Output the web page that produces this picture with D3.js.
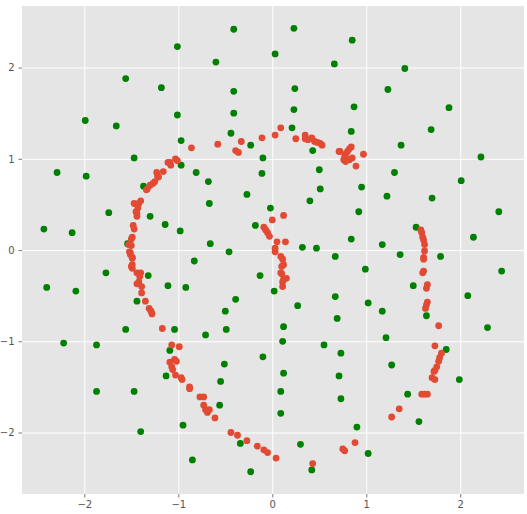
<!DOCTYPE html>
<html>
<head>
<meta charset="utf-8">
<script src="https://cdn.jsdelivr.net/npm/d3@7"></script>
<style>
body { margin: 0; background: #fff; }
</style>
</head>
<body>
<div id="chart"></div>
<script>
var svgWidth = 527
var svgHeight = 514

// red group
var redX = [-0.86,-0.58,-0.33,-0.39,-0.36,-0.11,-1.03,-1.09,-1.11,-1.08,-1.01,-1.16,-1.23,-1.22,-1.25,-1.27,-1.30,-1.33,-1.34,-1.21,
  -1.40,-1.42,-1.47,-1.43,-1.45,-1.44,-1.44,-1.48,-1.47,-1.49,-1.50,-1.50,-1.53,-1.51,-1.49,
  -1.52,-1.51,-1.49,-1.49,-1.49,-1.50,-1.44,-1.40,-1.41,-1.44,-1.42,-1.39,-1.39,-1.35,-1.31,-1.29,-1.28,-1.17,
  -1.07,-0.99,-1.04,-1.02,-1.09,-1.07,-1.06,-1.03,-0.97,-0.96,-0.88,-0.88,-0.77,-0.73,-0.73,-0.71,-0.67,-0.69,-0.61,
  -0.44,-0.37,-0.27,-0.16,-0.09,-0.05,0.04,0.43,0.75,0.77,0.88,1.27,1.35,1.59,1.62,1.65,1.70,1.73,1.72,1.73,1.75,1.77,1.78,1.80,1.73,1.77,
  1.63,1.64,1.65,1.64,1.65,1.60,1.61,1.61,1.61,1.62,1.58,1.59,1.60,1.61,1.62,
  0.03,0.09,0.11,0.12,0.10,0.09,0.10,0.12,0.15,0.11,0.11,
  0.00,0.12,-0.09,-0.07,-0.05,-0.03,0.05,0.14,0.03,
  0.03,0.09,0.25,0.35,0.35,0.38,0.42,0.45,0.48,0.51,0.53,0.72,0.71,0.84,0.82,0.80,0.78,0.77,0.76,0.78,0.82,0.85,0.97,0.89]
var redY = [1.12,1.16,1.19,1.09,1.07,1.23,1.00,0.96,0.96,0.93,0.98,0.86,0.85,0.81,0.75,0.73,0.71,0.67,0.66,0.80,
  0.54,0.51,0.51,0.46,0.42,0.40,0.37,0.27,0.23,0.14,0.12,0.05,0.06,-0.03,-0.08,
  -0.02,-0.05,-0.09,-0.16,-0.20,-0.18,-0.25,-0.25,-0.29,-0.37,-0.35,-0.40,-0.47,-0.56,-0.64,-0.67,-0.70,-0.86,
  -1.04,-1.06,-1.20,-1.22,-1.23,-1.28,-1.31,-1.37,-1.40,-1.42,-1.50,-1.52,-1.61,-1.61,-1.70,-1.75,-1.75,-1.78,-1.84,
  -2.00,-2.03,-2.09,-2.15,-2.19,-2.22,-2.28,-2.34,-2.18,-2.20,-2.11,-1.83,-1.74,-1.58,-1.58,-1.58,-1.40,-1.42,-1.33,-1.32,-1.28,-1.22,-1.18,-1.13,-1.05,-0.83,
  -0.64,-0.60,-0.57,-0.42,-0.38,-0.25,-0.23,-0.10,-0.08,-0.01,0.22,0.19,0.14,0.11,0.06,
  -0.02,-0.07,-0.10,-0.16,-0.18,-0.25,-0.26,-0.32,-0.31,-0.35,-0.40,
  0.33,0.38,0.25,0.22,0.19,0.15,0.09,0.09,0.02,
  1.26,1.34,1.22,1.26,1.22,1.21,1.23,1.19,1.18,1.17,1.15,1.08,1.08,1.13,1.11,1.08,1.05,1.02,0.99,0.97,0.99,1.01,1.05,0.92]

// green group
var greenX = [-0.41,-1.01,-0.60,-1.56,-1.18,-0.41,-1.01,-0.41,-1.99,-1.66,-0.44,-0.97,-0.23,-1.47,-0.10,-0.97,-2.29,-0.81,-1.98,-0.11,
  -0.68,-1.37,-0.27,-0.67,-1.74,-0.02,-1.30,-1.14,-0.18,-2.43,-2.13,-0.98,-1.54,-0.66,-0.46,-0.83,
  -1.77,-1.32,-0.13,-2.40,-2.09,-1.11,-0.92,-1.44,-0.39,-0.50,-1.56,-1.04,-0.49,-0.71,-2.22,-1.87,-1.09,-0.10,-0.51,
  -1.13,-0.55,-1.87,-1.47,-0.56,-0.95,-1.40,-0.34,-0.85,-0.23,
  0.23,0.85,0.03,0.66,1.41,0.24,1.23,0.23,0.87,1.88,0.21,0.84,1.69,1.37,0.43,2.22,0.50,1.30,2.01,0.51,0.95,0.40,1.22,1.70,
  0.92,2.41,1.53,0.84,2.14,0.32,0.47,1.17,0.67,1.36,1.79,
  0.99,2.44,1.50,0.02,0.67,2.08,0.27,1.02,1.17,0.69,1.64,0.12,2.29,0.11,1.21,0.55,0.73,1.85,1.27,0.12,0.71,1.99,0.09,0.73,
  1.44,0.09,1.56,0.90,0.30,1.02,0.42]
var greenY = [2.42,2.23,2.06,1.88,1.78,1.74,1.48,1.50,1.42,1.36,1.28,1.20,1.15,1.01,1.01,0.93,0.85,0.85,0.81,0.84,
  0.75,0.70,0.61,0.51,0.41,0.46,0.37,0.28,0.27,0.23,0.19,0.21,0.07,0.07,-0.02,-0.12,
  -0.25,-0.28,-0.28,-0.41,-0.45,-0.39,-0.41,-0.56,-0.54,-0.67,-0.87,-0.87,-0.87,-0.93,-1.02,-1.04,-1.10,-1.17,-1.25,
  -1.38,-1.44,-1.55,-1.55,-1.70,-1.92,-1.99,-2.12,-2.30,-2.43,
  2.43,2.30,2.15,2.04,1.99,1.77,1.76,1.54,1.57,1.56,1.34,1.30,1.32,1.15,1.09,1.02,0.88,0.85,0.76,0.67,0.69,0.54,0.59,0.57,
  0.42,0.42,0.25,0.12,0.14,0.03,0.02,0.06,-0.07,-0.05,-0.07,
  -0.21,-0.23,-0.39,-0.45,-0.51,-0.50,-0.61,-0.58,-0.67,-0.75,-0.72,-0.84,-0.85,-1.00,-0.96,-1.04,-1.13,-1.09,-1.26,-1.35,-1.38,-1.42,-1.55,-1.63,
  -1.58,-1.79,-1.88,-1.94,-2.13,-2.23,-2.41]

var tickValues = [-2, -1, 0, 1, 2]

var plotLeft = 22, plotRight = 524, plotTop = 6, plotBottom = 494
var svg = d3.select("#chart").append("svg").attr("width",svgWidth).attr("height",svgHeight)

var x = d3.scaleLinear().domain([-2.663, 2.678]).range([plotLeft, plotRight])
var y = d3.scaleLinear().domain([-2.674, 2.675]).range([plotBottom, plotTop])

svg.append("rect")
    .attr("x",plotLeft).attr("y",plotTop)
    .attr("width",plotRight-plotLeft).attr("height",plotBottom-plotTop)
    .attr("fill","#e5e5e5")

// white grid
svg.append("g")
    .attr("transform","translate(0,"+plotBottom+")")
    .call(d3.axisBottom(x).tickValues(tickValues).tickSize(-(plotBottom-plotTop)).tickFormat(""))
    .call(function(g){ g.select(".domain").remove() })
    .selectAll("line").attr("stroke","#fff").attr("stroke-width",1)
svg.append("g")
    .attr("transform","translate("+plotLeft+",0)")
    .call(d3.axisLeft(y).tickValues(tickValues).tickSize(-(plotRight-plotLeft)).tickFormat(""))
    .call(function(g){ g.select(".domain").remove() })
    .selectAll("line").attr("stroke","#fff").attr("stroke-width",1)

var fmt = function(d){ return d < 0 ? "\u2212" + Math.abs(d) : "" + d }

var xAxis = svg.append("g")
    .attr("transform","translate(0,"+plotBottom+")")
    .call(d3.axisBottom(x).tickValues(tickValues).tickSize(3.5).tickPadding(3).tickFormat(fmt))
var yAxis = svg.append("g")
    .attr("transform","translate("+plotLeft+",0)")
    .call(d3.axisLeft(y).tickValues(tickValues).tickSize(3.5).tickPadding(4).tickFormat(fmt))
;[xAxis, yAxis].forEach(function(a){
  a.select(".domain").remove()
  a.selectAll("line").attr("stroke","#555").attr("stroke-width",0.8)
  a.selectAll("text").attr("fill","#555").style("font-family","DejaVu Sans").style("font-size","10px")
})

var greenPts = greenX.map(function(v,i){ return [v, greenY[i]] })
var redPts = redX.map(function(v,i){ return [v, redY[i]] })

svg.append("g").selectAll("circle")
    .data(greenPts)
    .enter()
    .append("circle")
    .attr("cx",function(d){ return x(d[0]) })
    .attr("cy",function(d){ return y(d[1]) })
    .attr("r",3.4)
    .attr("fill","#008000")

svg.append("g").selectAll("circle")
    .data(redPts)
    .enter()
    .append("circle")
    .attr("cx",function(d){ return x(d[0]) })
    .attr("cy",function(d){ return y(d[1]) })
    .attr("r",3.4)
    .attr("fill","#e24a33")
</script>
</body>
</html>
